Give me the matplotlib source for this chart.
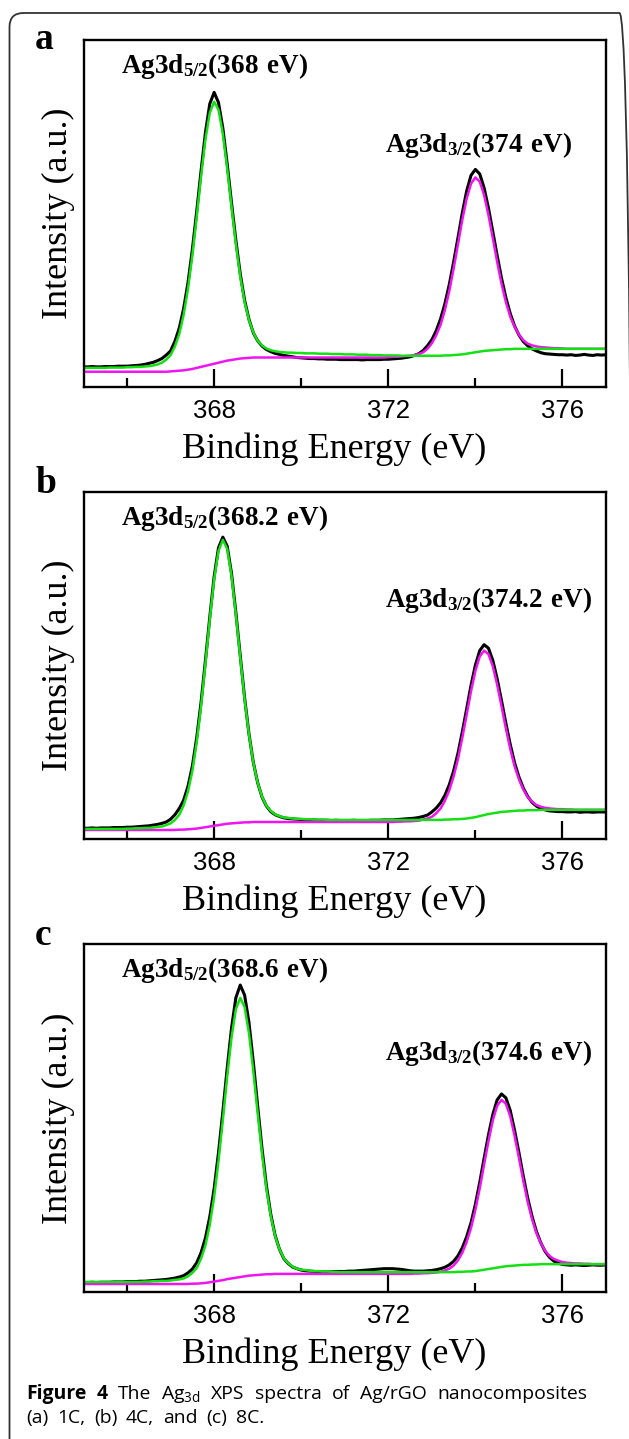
import numpy as np
import matplotlib
matplotlib.use("Agg")
import matplotlib.pyplot as plt
from matplotlib.patches import FancyBboxPatch
from matplotlib.transforms import IdentityTransform

CAPTION_FONT = "Open Sans"

plt.rcParams['mathtext.fontset'] = 'custom'
plt.rcParams['mathtext.bf'] = 'Liberation Serif:bold'
plt.rcParams['mathtext.rm'] = CAPTION_FONT

# --- binding energy axis (eV), 0.1 eV steps ---
energy = np.linspace(365.0, 377.0, 121)

# --- (a) 1C ---
peaks_a = ["368", "374"]
exp_a = [
    5.8, 5.8, 5.9, 5.8, 5.8, 5.9, 5.9, 5.9, 6.0, 6.0,
    6.0, 6.1, 6.2, 6.3, 6.5, 6.8, 7.1, 7.6, 8.2, 9.2,
    10.4, 13.2, 17.0, 22.6, 30.1, 39.6, 50.6, 62.3, 73.3, 81.6,
    84.9, 82.0, 74.6, 64.3, 53.0, 42.2, 32.6, 25.0, 19.5, 15.6,
    13.3, 11.8, 10.8, 10.2, 9.7, 9.4, 9.1, 8.9, 8.7, 8.5,
    8.4, 8.3, 8.2, 8.2, 8.1, 8.1, 8.0, 8.0, 8.0, 7.9,
    7.9, 7.9, 7.9, 7.9, 7.8, 7.9, 7.9, 7.9, 7.9, 8.0,
    8.0, 8.1, 8.2, 8.3, 8.5, 8.7, 9.1, 9.6, 10.5, 11.9,
    13.6, 16.2, 19.6, 24.0, 29.5, 36.0, 43.0, 50.2, 56.5, 61.0,
    62.7, 61.4, 57.4, 51.6, 44.8, 37.9, 31.4, 25.8, 21.2, 17.6,
    15.0, 13.1, 11.9, 11.0, 10.4, 9.9, 9.6, 9.5, 9.4, 9.3,
    9.3, 9.2, 9.3, 9.1, 9.2, 9.4, 9.2, 9.1, 9.3, 9.2,
    9.3]
fit52_a = [
    5.5, 5.5, 5.5, 5.5, 5.5, 5.5, 5.6, 5.6, 5.6, 5.6,
    5.7, 5.7, 5.8, 5.8, 5.9, 6.0, 6.2, 6.5, 7.0, 7.9,
    9.2, 11.7, 15.3, 20.8, 28.3, 37.9, 49.0, 60.7, 71.3, 79.0,
    82.2, 79.9, 73.0, 63.0, 51.9, 41.2, 31.8, 24.5, 19.3, 15.7,
    13.3, 12.0, 11.1, 10.6, 10.3, 10.1, 10.0, 9.9, 9.9, 9.8,
    9.8, 9.7, 9.7, 9.7, 9.6, 9.6, 9.6, 9.5, 9.5, 9.5,
    9.4, 9.4, 9.4, 9.3, 9.3, 9.3, 9.2, 9.2, 9.2, 9.1,
    9.1, 9.1, 9.1, 9.0, 9.0, 9.0, 9.0, 9.0, 9.0, 9.0,
    9.0, 9.0, 9.0, 9.1, 9.1, 9.2, 9.3, 9.4, 9.6, 9.8,
    10.0, 10.2, 10.4, 10.5, 10.6, 10.7, 10.8, 10.9, 10.9, 11.0,
    11.0, 11.0, 11.0, 11.0, 11.0, 11.0, 11.0, 11.0, 11.0, 11.0,
    11.0, 11.0, 11.0, 11.0, 11.0, 11.0, 11.0, 11.0, 11.0, 11.0,
    11.0]
fit32_a = [
    4.4, 4.4, 4.4, 4.4, 4.4, 4.4, 4.4, 4.4, 4.4, 4.4,
    4.4, 4.4, 4.4, 4.4, 4.4, 4.4, 4.4, 4.4, 4.4, 4.4,
    4.5, 4.6, 4.7, 4.8, 5.0, 5.2, 5.5, 5.8, 6.1, 6.4,
    6.7, 7.0, 7.3, 7.6, 7.8, 8.0, 8.2, 8.3, 8.4, 8.5,
    8.5, 8.5, 8.5, 8.5, 8.5, 8.5, 8.5, 8.5, 8.5, 8.5,
    8.5, 8.5, 8.5, 8.5, 8.5, 8.5, 8.5, 8.5, 8.5, 8.5,
    8.5, 8.5, 8.5, 8.5, 8.5, 8.5, 8.5, 8.5, 8.5, 8.5,
    8.6, 8.7, 8.7, 8.8, 8.9, 9.0, 9.2, 9.5, 10.0, 11.0,
    12.6, 14.9, 17.9, 22.2, 27.6, 34.1, 41.1, 48.2, 54.3, 58.6,
    60.4, 59.2, 55.3, 49.6, 42.9, 36.1, 29.8, 24.5, 20.3, 17.4,
    15.1, 13.5, 12.5, 12.0, 11.7, 11.5, 11.4, 11.3, 11.2, 11.2,
    11.1, 11.0, 11.0, 11.0, 11.0, 11.0, 11.0, 11.0, 11.0, 11.0,
    11.0]

# --- (b) 4C ---
peaks_b = ["368.2", "374.2"]
exp_b = [
    3.1, 3.1, 3.2, 3.1, 3.2, 3.2, 3.2, 3.3, 3.3, 3.3,
    3.4, 3.4, 3.5, 3.6, 3.7, 3.8, 4.0, 4.2, 4.5, 4.9,
    5.7, 7.0, 8.8, 11.2, 15.2, 21.0, 29.2, 39.4, 51.4, 63.9,
    75.6, 83.9, 87.0, 84.4, 76.5, 65.2, 52.8, 40.7, 30.3, 22.1,
    16.2, 12.1, 9.5, 7.9, 7.0, 6.5, 6.1, 5.9, 5.8, 5.7,
    5.6, 5.6, 5.5, 5.5, 5.4, 5.4, 5.4, 5.3, 5.4, 5.3,
    5.3, 5.3, 5.4, 5.3, 5.3, 5.3, 5.4, 5.4, 5.4, 5.5,
    5.5, 5.5, 5.6, 5.7, 5.8, 5.9, 6.0, 6.2, 6.5, 6.9,
    7.8, 8.9, 10.4, 12.6, 15.6, 19.6, 24.7, 30.9, 37.5, 44.3,
    50.1, 54.3, 56.0, 55.0, 51.5, 46.2, 39.9, 33.4, 27.3, 22.0,
    17.9, 14.7, 12.3, 10.6, 9.5, 8.8, 8.4, 8.1, 8.0, 7.9,
    7.9, 7.8, 7.8, 7.9, 7.7, 7.8, 7.8, 7.7, 7.8, 7.8,
    7.8]
fit52_b = [
    2.9, 2.9, 2.9, 2.9, 2.9, 2.9, 2.9, 2.9, 2.9, 2.9,
    3.0, 3.0, 3.1, 3.1, 3.2, 3.2, 3.3, 3.5, 3.6, 4.0,
    4.5, 5.5, 7.0, 9.7, 13.7, 19.6, 27.9, 38.3, 50.5, 63.2,
    74.8, 83.0, 86.2, 83.6, 75.8, 64.6, 52.3, 40.3, 30.1, 22.0,
    16.2, 12.2, 9.6, 8.1, 7.1, 6.6, 6.2, 6.1, 5.9, 5.8,
    5.8, 5.7, 5.7, 5.6, 5.6, 5.6, 5.5, 5.5, 5.5, 5.5,
    5.5, 5.5, 5.5, 5.5, 5.5, 5.5, 5.5, 5.5, 5.5, 5.5,
    5.5, 5.5, 5.5, 5.5, 5.5, 5.5, 5.5, 5.5, 5.5, 5.5,
    5.5, 5.5, 5.5, 5.6, 5.6, 5.7, 5.7, 5.8, 5.9, 6.1,
    6.3, 6.6, 6.9, 7.2, 7.4, 7.6, 7.8, 7.9, 8.0, 8.1,
    8.2, 8.2, 8.3, 8.3, 8.3, 8.4, 8.4, 8.4, 8.4, 8.4,
    8.4, 8.4, 8.4, 8.4, 8.4, 8.4, 8.4, 8.4, 8.4, 8.4,
    8.4]
fit32_b = [
    2.6, 2.6, 2.6, 2.6, 2.6, 2.6, 2.6, 2.6, 2.6, 2.6,
    2.6, 2.6, 2.6, 2.6, 2.6, 2.6, 2.6, 2.6, 2.6, 2.6,
    2.6, 2.6, 2.7, 2.7, 2.8, 2.9, 3.0, 3.2, 3.4, 3.6,
    3.8, 4.0, 4.2, 4.4, 4.5, 4.6, 4.7, 4.8, 4.8, 4.9,
    4.9, 4.9, 4.9, 4.9, 4.9, 4.9, 4.9, 4.9, 4.9, 4.9,
    4.9, 4.9, 4.9, 4.9, 4.9, 4.9, 4.9, 4.9, 4.9, 4.9,
    4.9, 4.9, 4.9, 4.9, 4.9, 4.9, 4.9, 4.9, 4.9, 4.9,
    4.9, 4.9, 5.0, 5.0, 5.1, 5.1, 5.2, 5.3, 5.6, 5.9,
    6.4, 7.4, 8.8, 11.0, 14.0, 18.0, 23.0, 29.2, 35.8, 42.6,
    48.4, 52.6, 54.3, 53.3, 49.8, 44.5, 38.3, 31.9, 26.0, 21.0,
    17.2, 14.3, 12.1, 10.8, 9.8, 9.3, 9.0, 8.8, 8.7, 8.6,
    8.6, 8.5, 8.5, 8.4, 8.4, 8.4, 8.4, 8.4, 8.4, 8.4,
    8.4]

# --- (c) 8C ---
peaks_c = ["368.6", "374.6"]
exp_c = [
    2.7, 2.7, 2.8, 2.7, 2.8, 2.8, 2.8, 2.9, 2.9, 2.9,
    3.0, 3.0, 3.0, 3.1, 3.1, 3.2, 3.3, 3.4, 3.5, 3.6,
    3.8, 4.0, 4.3, 4.7, 5.5, 6.6, 8.4, 11.3, 15.5, 21.6,
    29.7, 40.0, 51.8, 64.3, 75.9, 84.6, 88.2, 85.3, 77.5, 66.1,
    53.4, 41.2, 30.6, 22.4, 16.3, 12.3, 9.6, 8.2, 7.2, 6.7,
    6.3, 6.1, 6.0, 5.9, 5.8, 5.8, 5.8, 5.8, 5.9, 5.9,
    5.9, 6.0, 6.0, 6.1, 6.2, 6.3, 6.4, 6.5, 6.6, 6.7,
    6.7, 6.7, 6.6, 6.5, 6.3, 6.1, 6.0, 6.0, 6.0, 6.1,
    6.2, 6.4, 6.7, 7.1, 7.8, 8.8, 10.4, 12.7, 15.9, 19.9,
    25.2, 31.5, 38.4, 45.1, 51.0, 55.2, 56.9, 55.8, 52.2, 46.5,
    40.1, 33.3, 27.1, 21.8, 17.5, 14.2, 11.7, 10.0, 8.9, 8.3,
    7.9, 7.8, 7.7, 7.8, 7.7, 7.6, 7.7, 7.8, 7.7, 7.7,
    7.8]
fit52_c = [
    2.9, 2.9, 2.9, 2.9, 2.9, 2.9, 2.9, 2.9, 2.9, 2.9,
    2.9, 2.9, 2.9, 2.9, 3.0, 3.0, 3.1, 3.1, 3.2, 3.2,
    3.3, 3.5, 3.6, 3.9, 4.5, 5.5, 6.9, 9.6, 13.4, 19.3,
    27.3, 37.6, 49.4, 61.9, 73.2, 81.3, 84.5, 81.9, 74.4, 63.5,
    51.4, 39.8, 29.7, 21.9, 16.1, 12.3, 9.7, 8.3, 7.3, 6.7,
    6.4, 6.3, 6.1, 6.0, 6.0, 5.9, 5.9, 5.8, 5.8, 5.7,
    5.7, 5.7, 5.7, 5.7, 5.7, 5.7, 5.7, 5.7, 5.7, 5.7,
    5.7, 5.7, 5.7, 5.7, 5.7, 5.7, 5.7, 5.7, 5.7, 5.7,
    5.7, 5.7, 5.7, 5.7, 5.7, 5.7, 5.8, 5.8, 5.9, 5.9,
    6.0, 6.2, 6.4, 6.6, 6.8, 7.0, 7.2, 7.4, 7.5, 7.6,
    7.7, 7.8, 7.8, 7.9, 7.9, 8.0, 8.0, 8.0, 8.0, 8.0,
    8.0, 8.0, 8.0, 8.0, 8.0, 8.0, 8.0, 8.0, 8.0, 8.0,
    8.0]
fit32_c = [
    2.3, 2.3, 2.3, 2.3, 2.3, 2.3, 2.3, 2.3, 2.3, 2.3,
    2.3, 2.3, 2.3, 2.3, 2.3, 2.3, 2.3, 2.3, 2.3, 2.3,
    2.3, 2.3, 2.3, 2.3, 2.3, 2.4, 2.4, 2.5, 2.6, 2.8,
    3.0, 3.2, 3.4, 3.7, 3.9, 4.1, 4.3, 4.5, 4.7, 4.8,
    4.9, 5.0, 5.1, 5.1, 5.2, 5.2, 5.2, 5.2, 5.2, 5.2,
    5.2, 5.2, 5.2, 5.2, 5.2, 5.2, 5.2, 5.2, 5.2, 5.2,
    5.2, 5.2, 5.2, 5.2, 5.2, 5.2, 5.2, 5.2, 5.2, 5.2,
    5.2, 5.2, 5.2, 5.2, 5.2, 5.2, 5.3, 5.3, 5.4, 5.4,
    5.5, 5.6, 5.8, 6.2, 6.7, 7.6, 9.1, 11.3, 14.4, 18.4,
    23.6, 29.8, 36.6, 43.3, 49.3, 53.5, 55.2, 54.1, 50.5, 44.9,
    38.6, 32.0, 26.0, 21.0, 17.0, 14.1, 11.9, 10.4, 9.5, 9.0,
    8.6, 8.4, 8.3, 8.2, 8.2, 8.1, 8.1, 8.0, 8.0, 8.0,
    8.0]

letters = ["a", "b", "c"]
major_ticks = [368, 372, 376]
minor_ticks = [366, 370, 374]

W, H = 629, 1439
GREEN = "#14e014"
MAGENTA = "#f014f0"
SERIF = "Liberation Serif"


def fx(x):
    return x / W


def fy(y):
    return 1 - y / H


fig = plt.figure(figsize=(W / 100, H / 100), dpi=100)

# rounded frame around the whole figure (right and bottom sides run off the edge)
frame = FancyBboxPatch((9.5, -40), 624, 1439 - 13 + 40,
                       boxstyle="round,pad=0,rounding_size=14",
                       transform=IdentityTransform(), fill=False,
                       edgecolor="#333333", linewidth=1.3)
fig.patches.append(frame)

panels = [
    (exp_a, fit52_a, fit32_a, peaks_a, 40, 387, 49, 0.677),
    (exp_b, fit52_b, fit32_b, peaks_b, 492, 839, 493, 0.670),
    (exp_c, fit52_c, fit32_c, peaks_c, 944, 1292, 945, 0.667),
]

for letter, (exp, f52, f32, pk, top, bot, let_y, ann2_y) in zip(letters, panels):
    ax = fig.add_axes([fx(83.5), fy(bot), (606 - 83.5) / W, (bot - top) / H])
    ax.plot(energy, exp, color="black", lw=2.2)
    ax.plot(energy, f32, color=MAGENTA, lw=1.8)
    ax.plot(energy, f52, color=GREEN, lw=1.8)

    ax.set_xlim(365, 377)
    ax.set_ylim(0, 100)
    ax.set_xticks(major_ticks)
    ax.set_xticks(minor_ticks, minor=True)
    ax.set_yticks([])
    ax.tick_params(axis="x", which="major", direction="in", length=13, width=1.6,
                   pad=8.5, labelsize=18.5, labelfontfamily="Liberation Sans")
    ax.tick_params(axis="x", which="minor", direction="in", length=6.5, width=1.6)
    for s in ax.spines.values():
        s.set_linewidth(1.7)

    ax.set_xlabel("Binding Energy (eV)", family=SERIF, fontsize=26, va="baseline")
    ax.xaxis.set_label_coords(0.479, -71 / (bot - top))
    ax.set_ylabel("Intensity (a.u.)", family=SERIF, fontsize=26, va="center")
    ax.yaxis.set_label_coords(-0.048, 0.5)

    ax.text(0.0718, 1 - 33 / (bot - top),
            r"$\mathbf{Ag3d_{5/2}(%s\ eV)}$" % pk[0],
            transform=ax.transAxes, ha="left", va="baseline", fontsize=19.5)
    ax.text(0.577, ann2_y,
            r"$\mathbf{Ag3d_{3/2}(%s\ eV)}$" % pk[1],
            transform=ax.transAxes, ha="left", va="baseline", fontsize=19.5)

    fig.text(fx(35), fy(let_y), letter, family=SERIF, weight="bold",
             fontsize=27, ha="left", va="baseline")

# caption: size the font so "nanocomposites" is ~150 px wide, then justify line 1
renderer = fig.canvas.get_renderer()
probe = fig.text(0, 0, "nanocomposites", family=CAPTION_FONT, fontsize=12.8)
cap_size = 12.8 * 150 / probe.get_window_extent(renderer).width
probe.remove()

line1 = [("Figure", "bold"), ("4", "bold"), ("The", "normal"),
         (r"Ag$_{\mathrm{3d}}$", "normal"), ("XPS", "normal"),
         ("spectra", "normal"), ("of", "normal"), ("Ag/rGO", "normal"),
         ("nanocomposites", "normal")]
line2 = ["(a)", "1C,", "(b)", "4C,", "and", "(c)", "8C."]

words = []
for w, wt in line1:
    t = fig.text(fx(26), fy(1399), w, family=CAPTION_FONT, weight=wt,
                 fontsize=cap_size, ha="left", va="baseline")
    words.append(t)
widths = [t.get_window_extent(renderer).width for t in words]
gap = (587 - 26 - sum(widths)) / (len(words) - 1)
x = 26
for t, wd in zip(words, widths):
    t.set_x(fx(x))
    x += wd + gap

x = 26
for w in line2:
    t = fig.text(fx(x), fy(1423), w, family=CAPTION_FONT, fontsize=cap_size,
                 ha="left", va="baseline")
    x += t.get_window_extent(renderer).width + 0.45 * cap_size * 100 / 72

fig.savefig("out.png", dpi=100)
